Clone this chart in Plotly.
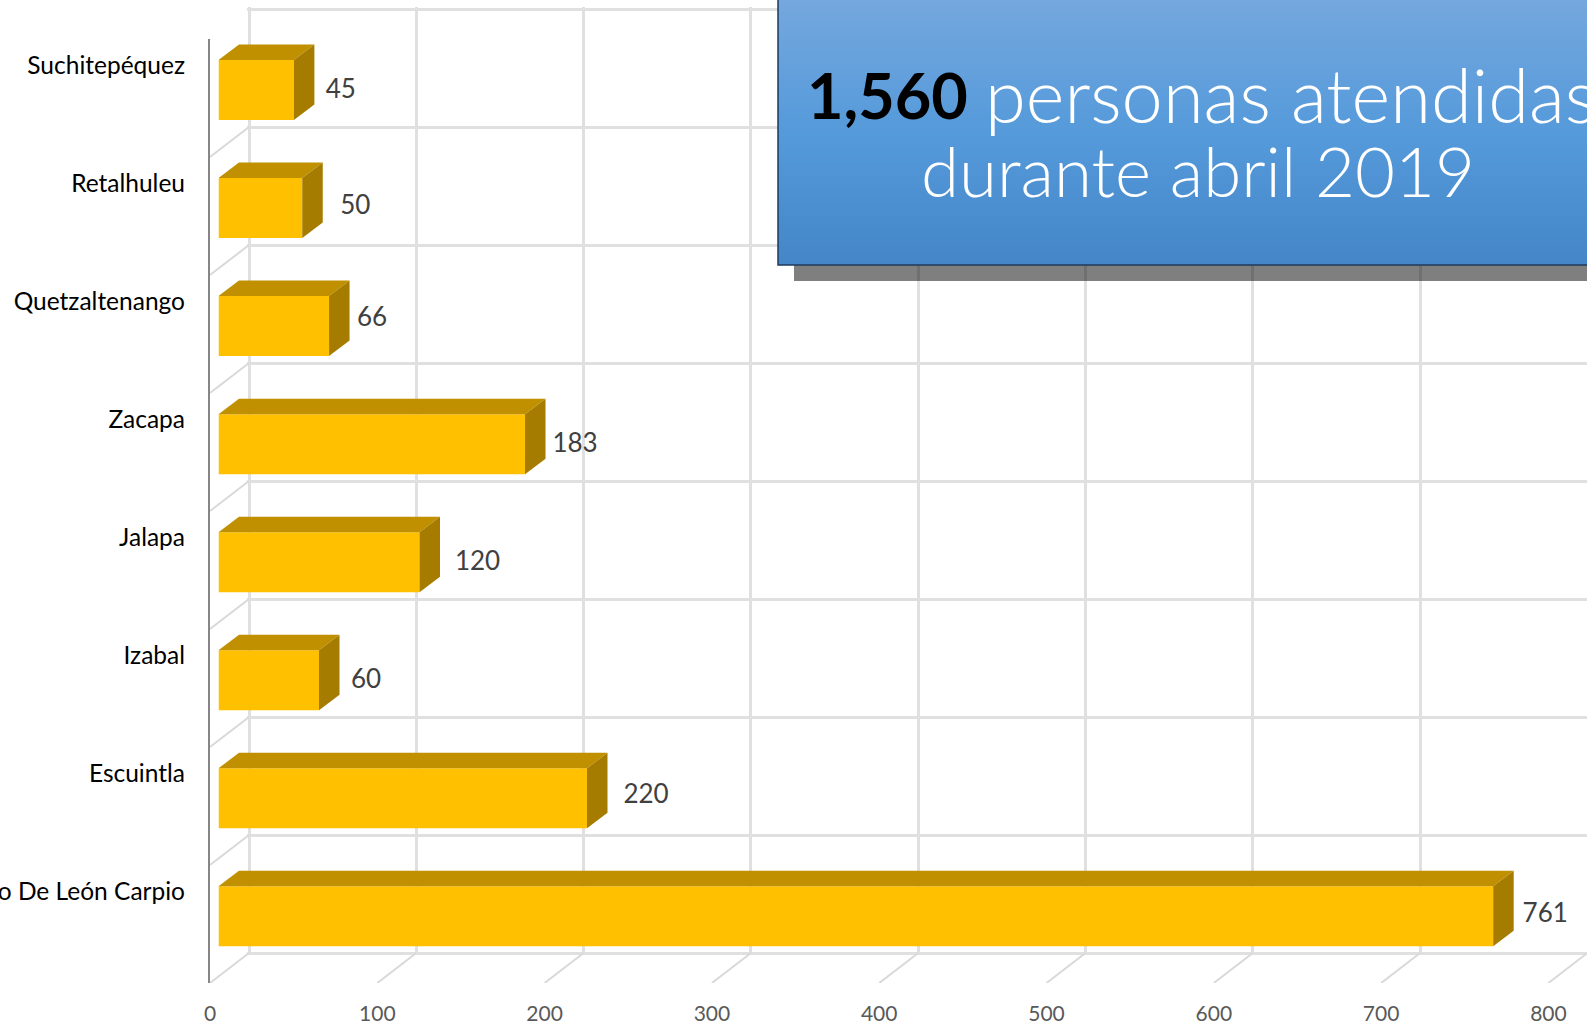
import plotly.graph_objects as go

categories = ["Suchitepéquez", "Retalhuleu", "Quetzaltenango", "Zacapa", "Jalapa", "Izabal", "Escuintla", "o De León Carpio"]
values = [45, 50, 66, 183, 120, 60, 220, 761]
x_ticks = [0, 100, 200, 300, 400, 500, 600, 700, 800]
gradient_stops = [0, 1]
# hand-placed data label offsets from the bar end / bar centre, in pixels
label_dx = [47, 53, 43, 50, 58, 47, 59, 52]
label_dy = [2, -1, -7, 1, 1, 1, -2, -1]

W, H = 1587, 1026
PX_PER_UNIT_AXIS = 167.3 / 100
PX_PER_UNIT_BAR = 167.5 / 100
BAND = 118.05
n = len(categories)
pos = list(range(n))

def fx(px):
    return px / W

def fy(px):
    return 1 - px / H

GRID = "#E0E0E0"
DIAG = "#D9D9D9"
FRONT_L, FRONT_TOP, FRONT_BOT = 210, 39, 983
BACK_L, BACK_TOP, BACK_BOT = 249, 9, 953
BAR_L, BAR_CENTER0 = 218.5, 90
PAD = 2  # keeps the outermost grid lines inside the back-wall subplot

back_band = (BACK_BOT - BACK_TOP) / n
depth_x = (BACK_L - FRONT_L) / PX_PER_UNIT_AXIS
depth_y = (FRONT_BOT - BACK_BOT) / BAND
bar_dx = 20.5 / PX_PER_UNIT_BAR
bar_dy = 15.5 / BAND

fig = go.Figure()
hidden = dict(showlegend=False, hoverinfo="skip")

# back wall subplot (grid only)
fig.add_trace(go.Scatter(x=[0], y=[0], mode="none", xaxis="x", yaxis="y", **hidden))

# front plane: diagonals, value axis labels, vertical axis line
dx, dy = [], []
for t in x_ticks:
    dx += [t, t + depth_x, None]
    dy += [n - 0.5, n - 0.5 - depth_y, None]
for i in range(n):
    dx += [0, depth_x, None]
    dy += [i - 0.5, i - 0.5 - depth_y, None]
fig.add_trace(go.Scatter(x=dx, y=dy, mode="lines", line=dict(color=DIAG, width=2),
                         cliponaxis=False, xaxis="x2", yaxis="y2", **hidden))

# bars
for i, v in enumerate(values):
    yt, yb = i - 0.254, i + 0.254
    fig.add_trace(go.Scatter(x=[0, bar_dx, v + bar_dx, v, 0],
                             y=[yt, yt - bar_dy, yt - bar_dy, yt, yt],
                             mode="lines", fill="toself", fillcolor="#C09000", line=dict(width=0),
                             xaxis="x3", yaxis="y3", **hidden))
    fig.add_trace(go.Scatter(x=[v, v + bar_dx, v + bar_dx, v, v],
                             y=[yt, yt - bar_dy, yb - bar_dy, yb, yt],
                             mode="lines", fill="toself", fillcolor="#A67C00", line=dict(width=0),
                             xaxis="x3", yaxis="y3", **hidden))
fig.add_trace(go.Bar(x=values, y=pos, orientation="h", width=0.508,
                     marker=dict(color="#FFC000", line=dict(width=0)),
                     xaxis="x3", yaxis="y3", **hidden))
fig.add_trace(go.Scatter(x=[v + d / PX_PER_UNIT_BAR for v, d in zip(values, label_dx)],
                         y=[p + d / BAND for p, d in zip(pos, label_dy)], mode="text",
                         text=[str(v) for v in values], textposition="middle center",
                         textfont=dict(family="Lato", size=26, color="#404040"),
                         cliponaxis=False, xaxis="x3", yaxis="y3", **hidden))

# callout shadow + gradient box
fig.add_trace(go.Heatmap(z=[[0, 0], [0, 0]], x=[0, 1], y=[0, 1], showscale=False, opacity=0.5,
                         colorscale=[[0, "#000000"], [1, "#000000"]], zmin=0, zmax=1,
                         xaxis="x4", yaxis="y4", hoverinfo="skip"))
fig.add_trace(go.Heatmap(z=[[gradient_stops[0]] * 2, [gradient_stops[1]] * 2], x=[0, 1], y=[0, 1],
                         showscale=False, zsmooth="best", zmin=0, zmax=1,
                         colorscale=[[0, "#4486C8"], [0.5, "#559ADB"], [1, "#74A7DD"]],
                         xaxis="x5", yaxis="y5", hoverinfo="skip"))

# category labels
fig.add_trace(go.Scatter(x=[0], y=[0], mode="none", xaxis="x", yaxis="y6", **hidden))

off = dict(visible=False, fixedrange=True)
pad_x = PAD / PX_PER_UNIT_AXIS
pad_y = PAD / back_band
label_shift = 2.5 / back_band
layout_axes = dict(
    xaxis=dict(domain=[fx(BACK_L - PAD), 1], range=[-pad_x, (W - BACK_L) / PX_PER_UNIT_AXIS], tickvals=x_ticks,
               showgrid=True, gridcolor=GRID, gridwidth=3, zeroline=False, showticklabels=False, ticks=""),
    yaxis=dict(domain=[fy(BACK_BOT + PAD), fy(BACK_TOP - PAD)], range=[n - 0.5 + pad_y, -0.5 - pad_y],
               tickvals=[i - 0.5 for i in range(n + 1)], showgrid=True, gridcolor=GRID, gridwidth=3,
               zeroline=False, showticklabels=False, ticks=""),
    xaxis2=dict(domain=[fx(FRONT_L), 1], range=[0, (W - FRONT_L) / PX_PER_UNIT_AXIS], tickvals=x_ticks,
                anchor="y2", showgrid=False, zeroline=False, ticks="", ticklabelstandoff=16,
                tickfont=dict(family="Lato", size=21, color="#595959")),
    yaxis2=dict(domain=[fy(FRONT_BOT), fy(FRONT_TOP)], range=[n - 0.5, -0.5], anchor="x2",
                showgrid=False, zeroline=False, showticklabels=False, ticks="",
                showline=True, linecolor="#868686", linewidth=2),
    xaxis3=dict(domain=[fx(BAR_L), 1], range=[0, (W - BAR_L) / PX_PER_UNIT_BAR], anchor="y3", **off),
    yaxis3=dict(domain=[fy(BAR_CENTER0 + (n - 0.5) * BAND), fy(BAR_CENTER0 - 0.5 * BAND)],
                range=[n - 0.5, -0.5], anchor="x3", **off),
    xaxis4=dict(domain=[fx(794), 1], range=[0, 1], anchor="y4", **off),
    yaxis4=dict(domain=[fy(281), 1], range=[0, 1], anchor="x4", **off),
    xaxis5=dict(domain=[fx(778), 1], range=[0, 1], anchor="y5", **off),
    yaxis5=dict(domain=[fy(265), 1], range=[0, 1], anchor="x5", **off),
    yaxis6=dict(overlaying="y", anchor="free", position=fx(185), side="left",
                range=[n - 0.5 + pad_y + label_shift, -0.5 - pad_y + label_shift],
                tickvals=pos, ticktext=categories, showgrid=False, zeroline=False, showline=False, ticks="",
                tickfont=dict(family="Lato", size=24.5, color="#000000")),
)

fig.update_layout(
    width=W, height=H, margin=dict(l=0, r=0, t=0, b=0, pad=0, autoexpand=False),
    paper_bgcolor="white", plot_bgcolor="rgba(0,0,0,0)", showlegend=False, barmode="overlay",
    shapes=[dict(type="rect", xref="paper", yref="paper", x0=fx(778), x1=1.01, y0=fy(265), y1=1.01,
                 layer="above", line=dict(color="#1F3A5A", width=1.5), fillcolor="rgba(0,0,0,0)")],
    annotations=[
        dict(text="<b>1,560</b>", xref="paper", yref="paper", x=fx(805), y=fy(95), xanchor="left", yanchor="middle",
             showarrow=False, font=dict(family="Lato", size=63, color="#000000")),
        dict(text="personas atendidas", xref="paper", yref="paper", x=fx(983), y=fy(95), xanchor="left", yanchor="middle",
             showarrow=False, font=dict(family="Lato", size=74, color="#FFFFFF", weight=300)),
        dict(text="durante abril 2019", xref="paper", yref="paper", x=fx(1198), y=fy(170), xanchor="center", yanchor="middle",
             showarrow=False, font=dict(family="Lato", size=69, color="#FFFFFF", weight=300)),
    ],
    **layout_axes,
)

fig.write_html("out.html", config={"displayModeBar": False},
               post_script="document.body.style.margin='0';document.body.style.overflow='hidden';")
